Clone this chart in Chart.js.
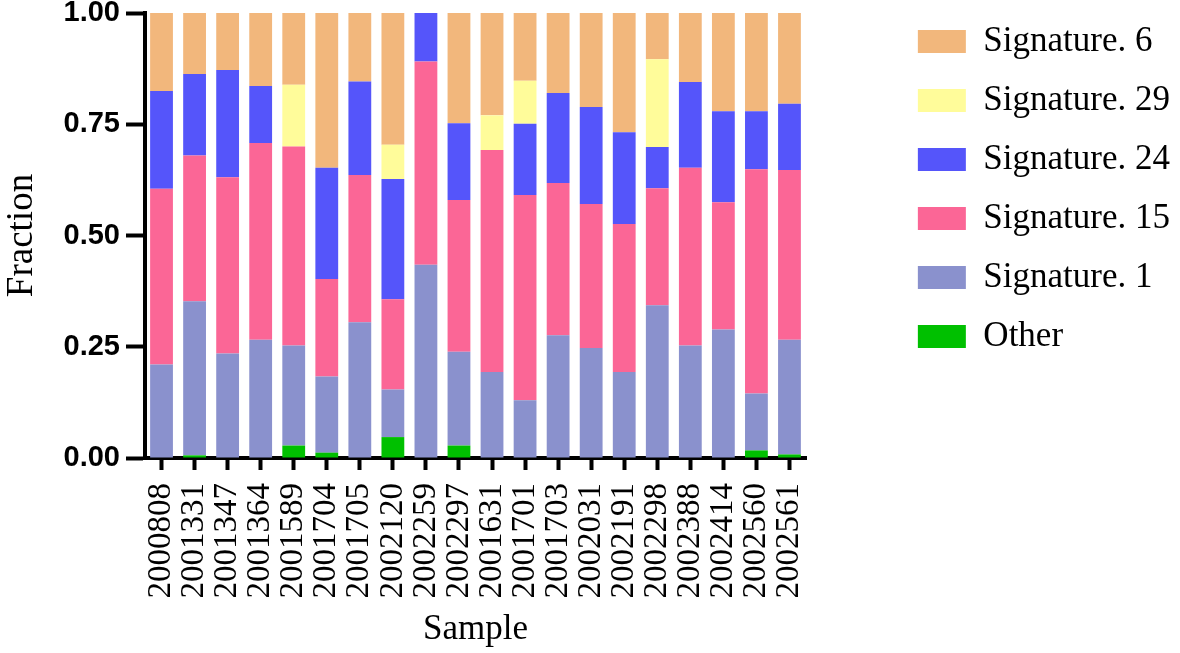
<!DOCTYPE html>
<html>
<head>
<meta charset="utf-8">
<script src="https://cdn.jsdelivr.net/npm/chart.js@4"></script>
<style>
  html, body { margin: 0; padding: 0; background: #fff; }
  #wrap { width: 1180px; height: 653px; }
</style>
</head>
<body>
<div id="wrap"><canvas id="sigChart" width="1180" height="653"></canvas></div>
<script>
const samples = ["2000808", "2001331", "2001347", "2001364", "2001589", "2001704", "2001705",
    "2002120", "2002259", "2002297", "2001631", "2001701", "2001703", "2002031",
    "2002191", "2002298", "2002388", "2002414", "2002560", "2002561"];

// stacked bottom -> top
const other = [0, 0.006, 0, 0, 0.028, 0.012, 0, 0.047, 0, 0.028, 0, 0, 0, 0, 0, 0, 0, 0, 0.017, 0.008];
const sig1  = [0.21, 0.346, 0.235, 0.266, 0.225, 0.171, 0.305, 0.107, 0.434, 0.211, 0.193, 0.13, 0.276, 0.247, 0.193, 0.343, 0.253, 0.289, 0.128, 0.258];
const sig15 = [0.395, 0.328, 0.396, 0.442, 0.447, 0.219, 0.331, 0.203, 0.457, 0.341, 0.499, 0.461, 0.342, 0.324, 0.333, 0.263, 0.399, 0.286, 0.504, 0.381];
const sig24 = [0.22, 0.183, 0.241, 0.128, 0, 0.25, 0.21, 0.27, 0.109, 0.172, 0, 0.16, 0.202, 0.218, 0.206, 0.093, 0.193, 0.204, 0.13, 0.149];
const sig29 = [0, 0, 0, 0, 0.139, 0, 0, 0.077, 0, 0, 0.078, 0.097, 0, 0, 0, 0.197, 0, 0, 0, 0];
const sig6  = [0.175, 0.137, 0.128, 0.164, 0.161, 0.348, 0.154, 0.296, 0, 0.248, 0.23, 0.152, 0.18, 0.211, 0.268, 0.104, 0.155, 0.221, 0.221, 0.204];

const yTicks = [0, 0.25, 0.5, 0.75, 1];

const serif = "'Liberation Serif', 'Times New Roman', serif";
const sans = "'Liberation Sans', Arial, sans-serif";

function makeSet(label, data, color) {
    return {
        label: label,
        data: data,
        backgroundColor: color,
        borderWidth: 0,
        barPercentage: 0.69,
        categoryPercentage: 1.0
    };
}

const ctx = document.getElementById('sigChart').getContext('2d');
window.sigChart = new Chart(ctx, {
    type: 'bar',
    data: {
        labels: samples,
        datasets: [
            makeSet('Other', other, '#00C000'),
            makeSet('Signature. 1', sig1, '#8A91CD'),
            makeSet('Signature. 15', sig15, '#FB6696'),
            makeSet('Signature. 24', sig24, '#5555FA'),
            makeSet('Signature. 29', sig29, '#FFFC9A'),
            makeSet('Signature. 6', sig6, '#F2B77C')
        ]
    },
    options: {
        responsive: false,
        maintainAspectRatio: false,
        animation: false,
        layout: { padding: 0 },
        plugins: {
            tooltip: { enabled: false },
            legend: {
                position: 'right',
                align: 'start',
                reverse: true,
                maxWidth: 400,
                labels: {
                    boxWidth: 48,
                    boxHeight: 23,
                    padding: 24,
                    color: '#000',
                    font: { family: serif, size: 35 }
                }
            }
        },
        scales: {
            x: {
                stacked: true,
                grid: {
                    offset: false,
                    drawOnChartArea: false,
                    tickLength: 12,
                    tickWidth: 4,
                    tickColor: '#000'
                },
                border: { color: '#000', width: 4 },
                ticks: {
                    color: '#000',
                    minRotation: 90,
                    maxRotation: 90,
                    autoSkip: false,
                    padding: 13,
                    font: { family: serif, size: 33 }
                },
                title: {
                    display: true,
                    text: 'Sample',
                    color: '#000',
                    padding: { top: 4, bottom: 2 },
                    font: { family: serif, size: 35 }
                },
                afterFit: function (scale) { scale.height = 195; }
            },
            y: {
                stacked: true,
                min: 0,
                max: 1,
                afterBuildTicks: function (scale) {
                    scale.ticks = yTicks.map(v => ({ value: v }));
                },
                grid: {
                    drawOnChartArea: false,
                    tickLength: 19,
                    tickWidth: 4,
                    tickColor: '#000'
                },
                border: { color: '#000', width: 4 },
                ticks: {
                    color: '#000',
                    padding: 6,
                    font: { family: sans, size: 29, weight: 'bold' },
                    callback: function (v) { return Number(v).toFixed(2); }
                },
                title: {
                    display: true,
                    text: 'Fraction',
                    color: '#000',
                    padding: { top: 0, bottom: 2 },
                    font: { family: serif, size: 37 }
                },
                afterFit: function (scale) {
                    scale.width = 145;
                    scale.paddingTop = 13;
                }
            },
            gap: {
                position: 'right',
                display: true,
                grid: { display: false },
                border: { display: false },
                ticks: { display: false },
                afterFit: function (scale) {
                    const lw = scale.chart.legend && scale.chart.legend.width ? scale.chart.legend.width : 290;
                    scale.width = Math.max(0, 1180 - lw - 806);
                }
            }
        }
    }
});
</script>
</body>
</html>
